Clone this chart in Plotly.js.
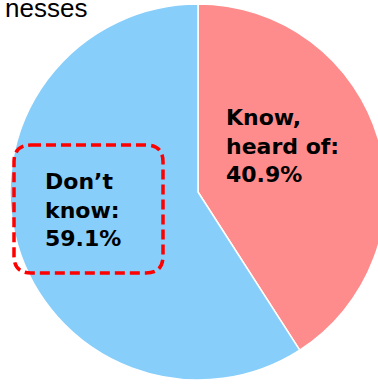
<!DOCTYPE html>
<html>
<head>
<meta charset="utf-8">
<script src="https://cdn.plot.ly/plotly-3.0.1.min.js"></script>
<style>
html,body{margin:0;padding:0;overflow:hidden;background:#fff;}
#chart{width:396px;height:384px;}
</style>
</head>
<body>
<div id="chart"></div>
<script>
// Data
const categories = ["Know, heard of", "Don\u2019t know"];
const values = [40.9, 59.1];
const labelLines = [["Know,", "heard of:"], ["Don\u2019t", "know:"]];
const colors = ["#FF8C8C", "#87CEFA"];
const titleFragment = "nesses";

const W = 396, H = 384;
const px = (x) => x / W;
const py = (y) => 1 - y / H;

function roundedRectPath(l, t, r, b, rad) {
  const P = (x, y) => px(x) + "," + py(y);
  return "M " + P(l + rad, t) + " L " + P(r - rad, t) +
    " Q " + P(r, t) + " " + P(r, t + rad) +
    " L " + P(r, b - rad) +
    " Q " + P(r, b) + " " + P(r - rad, b) +
    " L " + P(l + rad, b) +
    " Q " + P(l, b) + " " + P(l, b - rad) +
    " L " + P(l, t + rad) +
    " Q " + P(l, t) + " " + P(l + rad, t) + " Z";
}

const labelFont = {family: "DejaVu Sans", size: 22, color: "#000", weight: "bold"};
const pctText = (i) => labelLines[i].join("<br>") + "<br>" + values[i].toFixed(1) + "%";

const trace = {
  type: "pie",
  values: values,
  labels: categories,
  sort: false,
  direction: "clockwise",
  rotation: 0,
  marker: {colors: colors, line: {color: "#ffffff", width: 1.5}},
  textinfo: "none",
  hoverinfo: "none",
  showlegend: false,
  domain: {x: [0, 1], y: [4 / H, 1 - 4 / H]}
};

const layout = {
  width: W,
  height: H,
  margin: {l: 0, r: 0, t: 0, b: 0},
  paper_bgcolor: "#ffffff",
  showlegend: false,
  annotations: [
    {xref: "paper", yref: "paper", x: px(89), y: py(7.5), xanchor: "right", yanchor: "middle",
     text: titleFragment, showarrow: false,
     font: {family: "Liberation Sans", size: 26, color: "#000"}},
    {xref: "paper", yref: "paper", x: px(224), y: py(146), xanchor: "left", yanchor: "middle",
     align: "left", text: pctText(0), showarrow: false, font: labelFont},
    {xref: "paper", yref: "paper", x: px(43), y: py(210), xanchor: "left", yanchor: "middle",
     align: "left", text: pctText(1), showarrow: false, font: labelFont}
  ],
  shapes: [
    {type: "path", xref: "paper", yref: "paper",
     path: roundedRectPath(14, 145, 163, 273, 17),
     line: {color: "#FF0000", width: 3.5, dash: "10px,5px"},
     fillcolor: "rgba(0,0,0,0)"}
  ]
};

Plotly.newPlot("chart", [trace], layout, {displayModeBar: false, staticPlot: true});
</script>
</body>
</html>
